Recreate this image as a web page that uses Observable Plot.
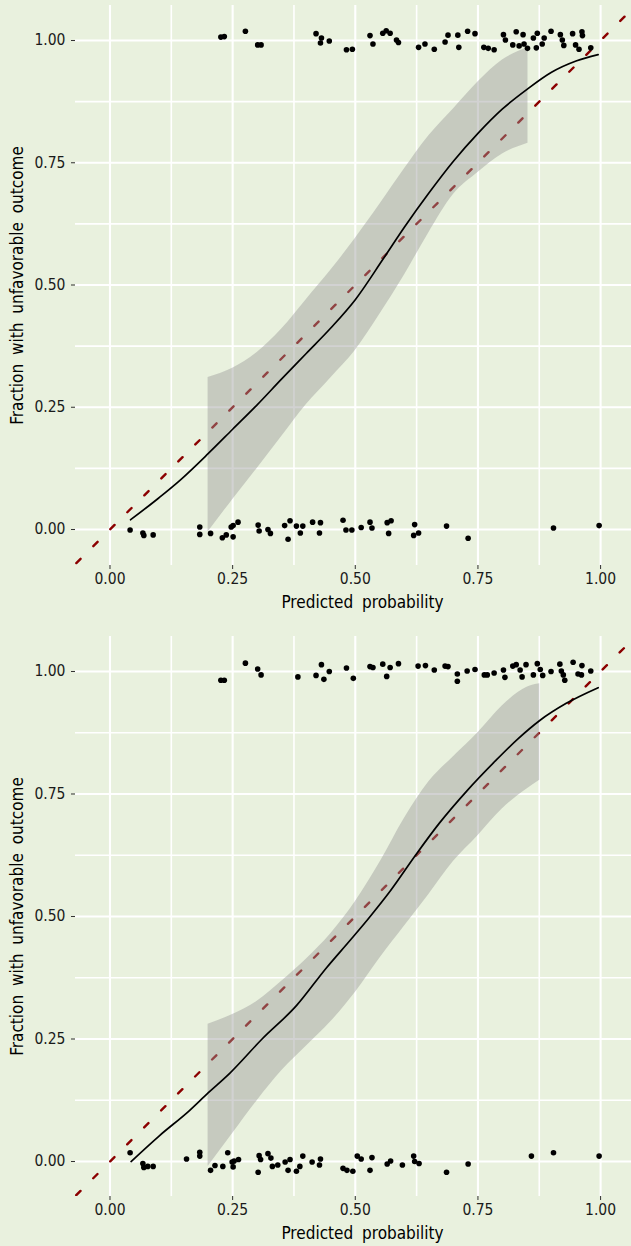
<!DOCTYPE html>
<html>
<head>
<meta charset="utf-8">
<script src="https://cdn.jsdelivr.net/npm/d3@7"></script>
<script src="https://cdn.jsdelivr.net/npm/@observablehq/plot@0.6"></script>
<style>
  html, body { margin: 0; padding: 0; background: #e9f1de; }
  #chart { width: 631px; }
  svg { display: block; }
</style>
</head>
<body>
<div id="chart"></div>
<script>
// ---------- data ----------
const xTicks = [0, 0.25, 0.5, 0.75, 1];
const yTicks = [0, 0.25, 0.5, 0.75, 1];
const minorTicks = [0.125, 0.375, 0.625, 0.875];
const identityLine = [-0.2, 1.2];

// Panel 1: observed outcomes (jittered) at y ~ 1 and y ~ 0
const p1TopX = [0.226,0.233,0.276,0.301,0.308,0.420,0.431,0.429,0.447,0.482,0.494,0.530,0.536,0.556,0.563,0.571,0.584,0.588,0.629,0.642,0.661,0.683,0.689,0.709,0.711,0.729,0.744,0.762,0.771,0.783,0.802,0.806,0.821,0.828,0.834,0.842,0.844,0.851,0.863,0.871,0.869,0.881,0.885,0.899,0.918,0.922,0.925,0.943,0.949,0.962,0.963,0.956,0.980];
const p1TopY = [1.007,1.008,1.019,0.991,0.991,1.014,1.005,0.995,0.999,0.981,0.982,1.010,0.993,1.015,1.020,1.015,1.001,0.996,0.986,0.993,0.982,0.997,1.011,1.011,0.986,1.019,1.014,0.986,0.984,0.981,1.012,1.001,0.991,1.018,0.989,1.012,0.993,0.984,1.005,1.015,0.985,0.993,1.005,1.019,1.012,1.001,0.990,1.014,0.991,1.018,1.010,0.982,0.985];
const p1BotX = [0.041,0.067,0.069,0.088,0.183,0.183,0.205,0.229,0.237,0.251,0.247,0.251,0.261,0.302,0.304,0.322,0.327,0.356,0.367,0.363,0.380,0.388,0.393,0.413,0.429,0.427,0.475,0.481,0.493,0.512,0.530,0.534,0.565,0.573,0.568,0.621,0.619,0.629,0.686,0.730,0.904,0.997];
const p1BotY = [-0.001,-0.007,-0.012,-0.011,0.005,-0.010,-0.008,-0.017,-0.011,-0.015,0.005,0.008,0.015,0.009,-0.003,0.000,-0.008,0.008,0.018,-0.020,0.007,-0.007,0.007,0.015,0.014,-0.007,0.019,-0.001,-0.001,0.004,0.015,0.003,0.014,0.018,-0.008,0.010,-0.012,-0.007,0.007,-0.018,0.003,0.008];
// Panel 1: smooth curve and confidence band
const p1CurveX = [0.042,0.1,0.142,0.2,0.25,0.3,0.35,0.4,0.45,0.5,0.556,0.6,0.65,0.7,0.75,0.8,0.85,0.9,0.95,0.995];
const p1CurveY = [0.02,0.065,0.10,0.155,0.205,0.255,0.308,0.36,0.412,0.47,0.552,0.618,0.688,0.753,0.81,0.86,0.9,0.935,0.958,0.971];
const p1BandX = [0.2,0.25,0.3,0.35,0.4,0.45,0.5,0.55,0.6,0.65,0.7,0.75,0.8,0.852];
const p1BandLo = [-0.005,0.061,0.125,0.19,0.255,0.31,0.366,0.44,0.52,0.607,0.685,0.73,0.768,0.79];
const p1BandHi = [0.311,0.33,0.362,0.41,0.47,0.53,0.595,0.665,0.737,0.805,0.86,0.915,0.96,0.985];

// Panel 2
const p2TopX = [0.226,0.233,0.276,0.301,0.308,0.383,0.420,0.431,0.436,0.447,0.482,0.496,0.530,0.536,0.556,0.564,0.571,0.588,0.628,0.643,0.661,0.683,0.689,0.708,0.708,0.728,0.744,0.763,0.769,0.783,0.802,0.805,0.821,0.828,0.836,0.840,0.848,0.863,0.871,0.877,0.882,0.899,0.917,0.920,0.924,0.927,0.944,0.954,0.962,0.961,0.980];
const p2TopY = [0.982,0.982,1.017,1.005,0.993,0.989,0.992,1.014,0.984,1.000,1.007,0.986,1.010,1.008,1.015,0.990,1.008,1.016,1.011,1.012,1.003,1.011,1.010,0.995,0.980,1.001,1.004,0.993,0.993,0.997,1.003,0.988,1.011,1.014,1.003,0.989,1.014,0.993,1.016,1.004,0.992,1.000,1.015,1.001,0.993,0.982,1.019,0.995,1.012,0.993,1.001];
const p2BotX = [0.041,0.067,0.069,0.077,0.088,0.156,0.183,0.183,0.205,0.214,0.230,0.240,0.249,0.251,0.253,0.262,0.302,0.304,0.307,0.322,0.328,0.331,0.342,0.357,0.367,0.363,0.380,0.387,0.393,0.412,0.429,0.427,0.475,0.483,0.495,0.504,0.512,0.534,0.530,0.565,0.572,0.596,0.619,0.621,0.630,0.686,0.730,0.859,0.904,0.997];
const p2BotY = [0.018,-0.004,-0.012,-0.010,-0.010,0.005,0.019,0.011,-0.018,-0.008,-0.010,0.018,-0.001,-0.011,0.001,0.004,-0.022,0.012,0.004,0.016,0.007,-0.010,-0.007,-0.001,0.004,-0.018,-0.020,-0.010,0.011,-0.001,0.005,-0.007,-0.014,-0.018,-0.020,0.011,0.005,0.008,-0.018,-0.005,0.001,-0.007,0.011,0.000,-0.004,-0.022,-0.005,0.011,0.018,0.011];
const p2CurveX = [0.043,0.1,0.162,0.2,0.244,0.31,0.38,0.441,0.49,0.527,0.572,0.622,0.671,0.728,0.786,0.831,0.876,0.93,0.995];
const p2CurveY = [0.0,0.052,0.104,0.14,0.18,0.25,0.318,0.395,0.452,0.496,0.553,0.624,0.69,0.757,0.818,0.862,0.9,0.935,0.967];
const p2BandX = [0.2,0.25,0.3,0.35,0.4,0.45,0.5,0.55,0.6,0.65,0.7,0.75,0.8,0.85,0.876];
const p2BandLo = [-0.01,0.057,0.124,0.185,0.235,0.285,0.345,0.415,0.48,0.545,0.612,0.665,0.72,0.76,0.778];
const p2BandHi = [0.28,0.30,0.327,0.368,0.413,0.465,0.53,0.61,0.70,0.775,0.826,0.875,0.93,0.968,0.975];

const xTitle = "Predicted probability";
const yTitle = "Fraction with unfavorable outcome";

// ---------- drawing ----------
const BG = "#e9f1de";
const FONT = "'Liberation Sans Narrow', 'DejaVu Sans Condensed', sans-serif";
const zip = (xs, ys) => xs.map((x, i) => ({x, y: ys[i]}));

function panel(o) {
  const points = zip(o.topX, o.topY).concat(zip(o.botX, o.botY));
  const curve = zip(o.curveX, o.curveY);
  const band = o.bandX.map((x, i) => ({x, lo: o.bandLo[i], hi: o.bandHi[i]}));
  const diag = identityLine.map(v => ({x: v, y: v}));
  return Plot.plot({
    width: 631,
    height: o.height,
    marginLeft: 75,
    marginRight: 0,
    marginTop: 5,
    marginBottom: o.height - 565,
    style: {background: BG, fontFamily: FONT, fontSize: "15.5px", color: "#1a1a1a", overflow: "visible"},
    x: {domain: [-0.0703, 1.063]},
    y: {domain: o.yDomain},
    marks: [
      Plot.ruleX(minorTicks, {stroke: "white", strokeWidth: 1.6}),
      Plot.ruleY(minorTicks, {stroke: "white", strokeWidth: 1.6}),
      Plot.ruleX(xTicks, {stroke: "white", strokeWidth: 2.1}),
      Plot.ruleY(yTicks, {stroke: "white", strokeWidth: 2.1}),
      Plot.line(diag, {x: "x", y: "y", stroke: "#8b0000", strokeWidth: 2.4,
        strokeDasharray: "6,18", strokeDashoffset: o.dashOffset, clip: true}),
      Plot.areaY(band, {x: "x", y1: "lo", y2: "hi", fill: "#999999", fillOpacity: 0.44, curve: "monotone-x"}),
      Plot.line(curve, {x: "x", y: "y", stroke: "black", strokeWidth: 1.7, curve: "monotone-x"}),
      Plot.dot(points, {x: "x", y: "y", r: 2.8, fill: "black", stroke: "none"}),
      Plot.axisX(xTicks, {tickFormat: d3.format(".2f"), tickSize: 4, tickPadding: 3, label: null, stroke: "#333"}),
      Plot.axisY(yTicks, {tickFormat: d3.format(".2f"), tickSize: 4, tickPadding: 6, label: null, stroke: "#333"}),
      Plot.text([xTitle], {frameAnchor: "bottom", dx: 9, dy: 37, fontSize: 17, fill: "black", lineAnchor: "middle", textAnchor: "middle", text: d => d}),
      Plot.text([yTitle], {frameAnchor: "left", dx: -58, rotate: -90, fontSize: 17, fill: "black", lineAnchor: "middle", textAnchor: "middle", text: d => d})
    ]
  });
}

const chart = document.getElementById("chart");
chart.append(panel({
  height: 631, yDomain: [-0.0736, 1.0716], dashOffset: 5,
  topX: p1TopX, topY: p1TopY, botX: p1BotX, botY: p1BotY,
  curveX: p1CurveX, curveY: p1CurveY, bandX: p1BandX, bandLo: p1BandLo, bandHi: p1BandHi
}));
chart.append(panel({
  height: 615, yDomain: [-0.0714, 1.0714], dashOffset: 5,
  topX: p2TopX, topY: p2TopY, botX: p2BotX, botY: p2BotY,
  curveX: p2CurveX, curveY: p2CurveY, bandX: p2BandX, bandLo: p2BandLo, bandHi: p2BandHi
}));
d3.selectAll("#chart svg text").attr("word-spacing", "4px");
</script>
</body>
</html>
